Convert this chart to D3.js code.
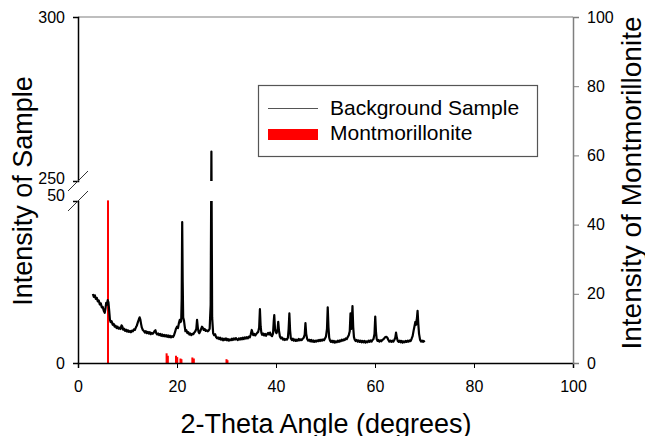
<!DOCTYPE html>
<html>
<head>
<meta charset="utf-8">
<script src="https://cdn.jsdelivr.net/npm/d3@7"></script>
<style>
  body { margin: 0; background: #fff; }
  svg { font-family: "Liberation Sans", Arial, sans-serif; }
  .tick text { font-size: 16px; fill: #000; }
</style>
</head>
<body>
<svg width="645" height="436"></svg>
<script>
// background sample pattern: [2-theta, intensity]
var samplePattern = [
  [3.0,21.3],[3.2,20.4],[3.4,20.9],[3.6,19.8],[3.8,20.1],[4.0,19.0],[4.2,19.3],[4.4,18.1],[4.6,18.4],[4.8,17.2],
  [5.0,17.3],[5.2,16.1],[5.4,15.5],[5.55,16.8],[5.7,18.6],[5.85,18.0],[6.0,19.4],[6.15,18.7],[6.3,16.2],[6.45,13.4],
  [6.6,12.6],[6.8,12.9],[7.0,11.8],[7.2,12.1],[7.4,11.2],[7.6,11.5],[7.8,10.8],[8.0,11.2],[8.2,10.6],[8.4,10.9],
  [8.6,10.5],[8.8,11.6],[8.95,11.3],[9.1,10.3],[9.3,10.6],[9.5,9.9],[9.7,10.3],[9.9,9.7],[10.1,10.1],[10.3,9.6],
  [10.5,9.9],[10.7,9.5],[10.9,10.0],[11.1,9.8],[11.3,10.4],[11.5,10.2],[11.7,11.0],[11.9,11.6],[12.1,12.6],[12.3,13.5],
  [12.45,14.1],[12.6,13.4],[12.75,12.0],[12.9,10.9],[13.1,10.2],[13.3,9.9],[13.5,9.4],[13.7,9.8],[13.9,9.2],[14.1,9.6],
  [14.3,9.1],[14.5,9.5],[14.7,8.9],[14.9,9.3],[15.1,9.0],[15.3,9.4],[15.5,9.9],[15.65,10.1],[15.8,9.2],[16.0,8.8],
  [16.2,9.1],[16.4,8.6],[16.6,9.0],[16.8,8.4],[17.0,8.8],[17.2,8.3],[17.4,8.7],[17.6,8.2],[17.8,8.6],[18.0,8.1],
  [18.2,8.5],[18.4,8.0],[18.6,8.4],[18.8,7.9],[19.0,8.3],[19.2,8.0],[19.4,8.6],[19.6,9.5],[19.8,10.6],[20.0,11.2],
  [20.2,10.8],[20.4,12.4],[20.55,13.3],[20.7,12.6],[20.85,13.0],[20.95,20.0],[21.05,43.5],[21.15,25.0],[21.25,14.0],[21.4,13.2],
  [21.55,11.4],[21.7,9.8],[21.9,10.1],[22.1,9.2],[22.3,9.5],[22.5,8.8],[22.7,9.1],[22.9,8.6],[23.1,9.0],[23.3,8.9],
  [23.5,9.4],[23.7,9.8],[23.9,10.5],[24.05,13.3],[24.2,11.0],[24.35,9.6],[24.5,9.2],[24.7,9.8],[24.9,10.6],[25.05,11.2],
  [25.2,10.9],[25.4,10.2],[25.6,10.5],[25.8,9.9],[26.0,10.1],[26.2,9.8],[26.4,10.0],[26.6,10.6],[26.8,18.0],[26.95,259],
  [27.1,14.0],[27.3,9.2],[27.5,8.6],[27.7,8.9],[27.9,8.0],[28.1,7.6],[28.3,7.9],[28.5,7.4],[28.7,7.8],[28.9,7.2],
  [29.1,7.6],[29.3,7.0],[29.5,7.5],[29.7,7.1],[29.9,7.6],[30.1,7.0],[30.3,7.4],[30.5,6.9],[30.7,7.3],[30.9,7.0],
  [31.1,7.5],[31.3,7.1],[31.5,7.6],[31.7,7.2],[31.9,7.7],[32.1,7.3],[32.3,7.1],[32.5,7.6],[32.7,7.2],[32.9,7.7],
  [33.1,7.3],[33.3,7.8],[33.5,7.4],[33.7,7.9],[33.9,7.5],[34.1,8.0],[34.3,7.6],[34.5,8.1],[34.7,7.9],[34.9,8.8],
  [35.1,10.2],[35.25,9.4],[35.4,8.6],[35.6,9.0],[35.8,8.5],[36.0,8.9],[36.2,9.3],[36.4,9.6],[36.6,11.0],[36.75,16.6],
  [36.9,11.2],[37.05,9.3],[37.2,8.7],[37.4,9.1],[37.6,8.5],[37.8,9.0],[38.0,8.4],[38.2,8.9],[38.4,9.3],[38.6,8.8],
  [38.8,9.4],[39.0,8.6],[39.2,8.3],[39.4,9.1],[39.55,13.0],[39.65,14.8],[39.8,10.5],[39.95,9.6],[40.1,9.2],[40.3,10.0],
  [40.45,12.7],[40.6,10.0],[40.8,8.1],[41.0,7.6],[41.2,7.9],[41.4,7.2],[41.6,7.5],[41.8,7.1],[42.0,7.4],[42.2,7.2],
  [42.4,7.8],[42.55,10.5],[42.7,15.3],[42.85,10.0],[43.0,7.6],[43.2,7.1],[43.4,7.5],[43.6,6.9],[43.8,7.3],[44.0,6.8],
  [44.2,7.2],[44.4,6.9],[44.6,7.4],[44.8,7.0],[45.0,7.3],[45.2,7.1],[45.4,7.5],[45.6,7.8],[45.8,8.8],[45.95,12.3],
  [46.1,9.0],[46.3,7.4],[46.5,6.9],[46.7,7.2],[46.9,6.7],[47.1,7.1],[47.3,6.6],[47.5,7.0],[47.7,6.5],[47.9,6.9],
  [48.1,6.6],[48.3,7.0],[48.5,6.7],[48.7,7.1],[48.9,6.8],[49.1,7.2],[49.3,6.9],[49.5,7.3],[49.7,7.0],[49.9,7.6],
  [50.1,8.2],[50.3,10.5],[50.45,17.2],[50.6,11.0],[50.75,7.8],[50.9,7.0],[51.1,6.5],[51.3,6.9],[51.5,6.4],[51.7,6.8],
  [51.9,6.3],[52.1,6.7],[52.3,6.4],[52.5,6.9],[52.7,6.5],[52.9,7.0],[53.1,6.7],[53.3,7.2],[53.5,6.9],[53.7,7.3],
  [53.9,7.1],[54.1,7.6],[54.3,7.4],[54.5,8.0],[54.7,8.6],[54.9,9.8],[55.05,15.3],[55.2,10.5],[55.3,12.5],[55.45,17.6],
  [55.6,11.0],[55.75,8.0],[55.9,7.2],[56.1,6.8],[56.3,7.1],[56.5,6.6],[56.7,7.0],[56.9,6.5],[57.1,6.9],[57.3,6.4],
  [57.5,6.8],[57.7,6.4],[57.9,6.8],[58.1,6.3],[58.3,6.7],[58.5,6.4],[58.7,6.9],[58.9,6.5],[59.1,7.0],[59.3,6.6],
  [59.5,7.1],[59.7,7.4],[59.9,9.0],[60.05,14.3],[60.2,9.5],[60.35,7.4],[60.5,6.8],[60.7,7.1],[60.9,6.6],[61.1,7.0],
  [61.3,6.7],[61.5,7.2],[61.7,7.3],[61.9,7.7],[62.1,8.0],[62.3,8.1],[62.5,7.8],[62.7,7.1],[62.9,6.6],[63.1,6.9],
  [63.3,6.5],[63.5,6.9],[63.7,6.6],[63.9,7.1],[64.1,7.8],[64.25,9.4],[64.4,7.9],[64.6,6.8],[64.8,6.5],[65.0,6.9],
  [65.2,6.4],[65.4,6.8],[65.6,6.3],[65.8,6.7],[66.0,6.4],[66.2,6.8],[66.4,6.5],[66.6,6.9],[66.8,6.6],[67.0,7.0],
  [67.2,6.8],[67.4,7.5],[67.6,8.3],[67.8,10.0],[68.0,11.5],[68.15,12.7],[68.3,11.8],[68.45,13.5],[68.6,16.1],[68.75,12.0],
  [68.9,9.0],[69.1,7.2],[69.3,6.6],[69.5,6.9],[69.7,6.5],[69.85,6.8],[70.0,6.4]
];

// montmorillonite reference lines (right axis)
var montTheta     = [6.06, 17.9, 18.15, 19.8, 20.05, 20.7, 20.9, 23.1, 23.4, 30.0, 30.2];
var montIntensity = [47, 2.8, 2.1, 2.1, 1.7, 1.3, 1.1, 1.6, 1.3, 1.1, 0.8];

var xTicks = [0, 20, 40, 60, 80, 100];
var yLowTicks = [0, 50];
var yHighTicks = [250, 300];
var yRightTicks = [0, 20, 40, 60, 80, 100];
var legendLabels = ["Background Sample", "Montmorillonite"];

var svg = d3.select("svg");

var plot = {left: 78, right: 573, top: 17, bottom: 363, breakLow: 201, breakHigh: 181};

var x = d3.scaleLinear().domain([0, 100]).range([plot.left, plot.right]);
var yLow = d3.scaleLinear().domain([0, 50]).range([plot.bottom, plot.breakLow]);
var yHigh = d3.scaleLinear().domain([250, 300]).range([plot.breakHigh, plot.top]);
// piecewise scale across the break
var y = d3.scaleLinear().domain([0, 50, 250, 300])
    .range([plot.bottom, plot.breakLow, plot.breakHigh, plot.top]);
var yRight = d3.scaleLinear().domain([0, 100]).range([plot.bottom, plot.top]);

// clip areas for each side of the break
var defs = svg.append("defs");
defs.append("clipPath").attr("id", "clipLow").append("rect")
    .attr("x", plot.left).attr("y", plot.breakLow)
    .attr("width", plot.right - plot.left).attr("height", plot.bottom - plot.breakLow);
defs.append("clipPath").attr("id", "clipHigh").append("rect")
    .attr("x", plot.left).attr("y", plot.top)
    .attr("width", plot.right - plot.left).attr("height", plot.breakHigh - plot.top);

// top frame
svg.append("line")
    .attr("x1", plot.left).attr("x2", plot.right)
    .attr("y1", plot.top).attr("y2", plot.top)
    .attr("stroke", "#7f7f7f").attr("stroke-width", 1.2);

// montmorillonite bars
svg.append("g").selectAll("rect")
    .data(montTheta)
    .enter()
    .append("rect")
    .attr("x", function (d) { return x(d) - 1; })
    .attr("width", 2)
    .attr("y", function (d, i) { return yRight(montIntensity[i]); })
    .attr("height", function (d, i) { return yRight(0) - yRight(montIntensity[i]); })
    .attr("fill", "#ff0000");

// sample line, drawn on both sides of the break
var line = d3.line()
    .x(function (d) { return x(d[0]); })
    .y(function (d) { return y(d[1]); });

["clipLow", "clipHigh"].forEach(function (id) {
    svg.append("path")
        .datum(samplePattern)
        .attr("clip-path", "url(#" + id + ")")
        .attr("d", line)
        .attr("fill", "none")
        .attr("stroke", "#000")
        .attr("stroke-width", 2.2)
        .attr("stroke-linejoin", "round");
});

// x axis
var xAxis = svg.append("g")
    .attr("transform", "translate(0," + plot.bottom + ")")
    .call(d3.axisBottom(x).tickValues(xTicks).tickSizeOuter(0).tickSize(5).tickPadding(13));
xAxis.select(".domain").attr("stroke", "#000").attr("stroke-width", 1.5);

// left axis, two pieces
var leftLow = svg.append("g")
    .attr("transform", "translate(" + plot.left + ",0)")
    .call(d3.axisLeft(yLow).tickValues(yLowTicks).tickSizeOuter(0).tickSize(5).tickPadding(8));
var leftHigh = svg.append("g")
    .attr("transform", "translate(" + plot.left + ",0)")
    .call(d3.axisLeft(yHigh).tickValues(yHighTicks).tickSizeOuter(0).tickSize(5).tickPadding(8));
[leftLow, leftHigh].forEach(function (g) {
    g.select(".domain").attr("stroke", "#000").attr("stroke-width", 1.5);
    g.selectAll(".tick").filter(function (d) { return d === 50 || d === 250; })
        .select("line").remove();
});
leftLow.selectAll(".tick").filter(function (d) { return d === 50; })
    .select("text").attr("y", -6);
leftHigh.selectAll(".tick").filter(function (d) { return d === 250; })
    .select("text").attr("y", -3);

// break marks
[plot.breakHigh, plot.breakLow].forEach(function (yy) {
    svg.append("line")
        .attr("x1", plot.left - 10).attr("y1", yy + 10)
        .attr("x2", plot.left + 10).attr("y2", yy - 10)
        .attr("stroke", "#333").attr("stroke-width", 1);
});

// right axis
var rightAxis = svg.append("g")
    .attr("transform", "translate(" + plot.right + ",0)")
    .call(d3.axisRight(yRight).tickValues(yRightTicks).tickSizeOuter(0).tickSize(6).tickPadding(8));
rightAxis.select(".domain").attr("stroke", "#7f7f7f").attr("stroke-width", 1.5);
rightAxis.selectAll(".tick line").attr("stroke", "#7f7f7f");

// axis titles
svg.append("text")
    .attr("transform", "translate(32,191) rotate(-90)")
    .attr("text-anchor", "middle")
    .style("font-size", "27px")
    .text("Intensity of Sample");
svg.append("text")
    .attr("transform", "translate(641,183) rotate(-90)")
    .attr("text-anchor", "middle")
    .style("font-size", "28px")
    .text("Intensity of Montmorillonite");
svg.append("text")
    .attr("x", 326).attr("y", 433)
    .attr("text-anchor", "middle")
    .style("font-size", "27px")
    .text("2-Theta Angle (degrees)");

// legend
var legend = svg.append("g");
legend.append("rect")
    .attr("x", 258.5).attr("y", 85.5).attr("width", 279).attr("height", 71)
    .attr("fill", "#fff").attr("stroke", "#555").attr("stroke-width", 1.2);
legend.append("line")
    .attr("x1", 268).attr("x2", 318).attr("y1", 108.5).attr("y2", 108.5)
    .attr("stroke", "#555").attr("stroke-width", 1.2);
legend.append("rect")
    .attr("x", 268).attr("y", 129).attr("width", 50).attr("height", 11)
    .attr("fill", "#ff0000");
legend.selectAll("text.lbl")
    .data(legendLabels)
    .enter()
    .append("text")
    .attr("class", "lbl")
    .attr("x", 330)
    .attr("y", function (d, i) { return 115 + i * 25; })
    .style("font-size", "21px")
    .text(function (d) { return d; });
</script>
</body>
</html>
